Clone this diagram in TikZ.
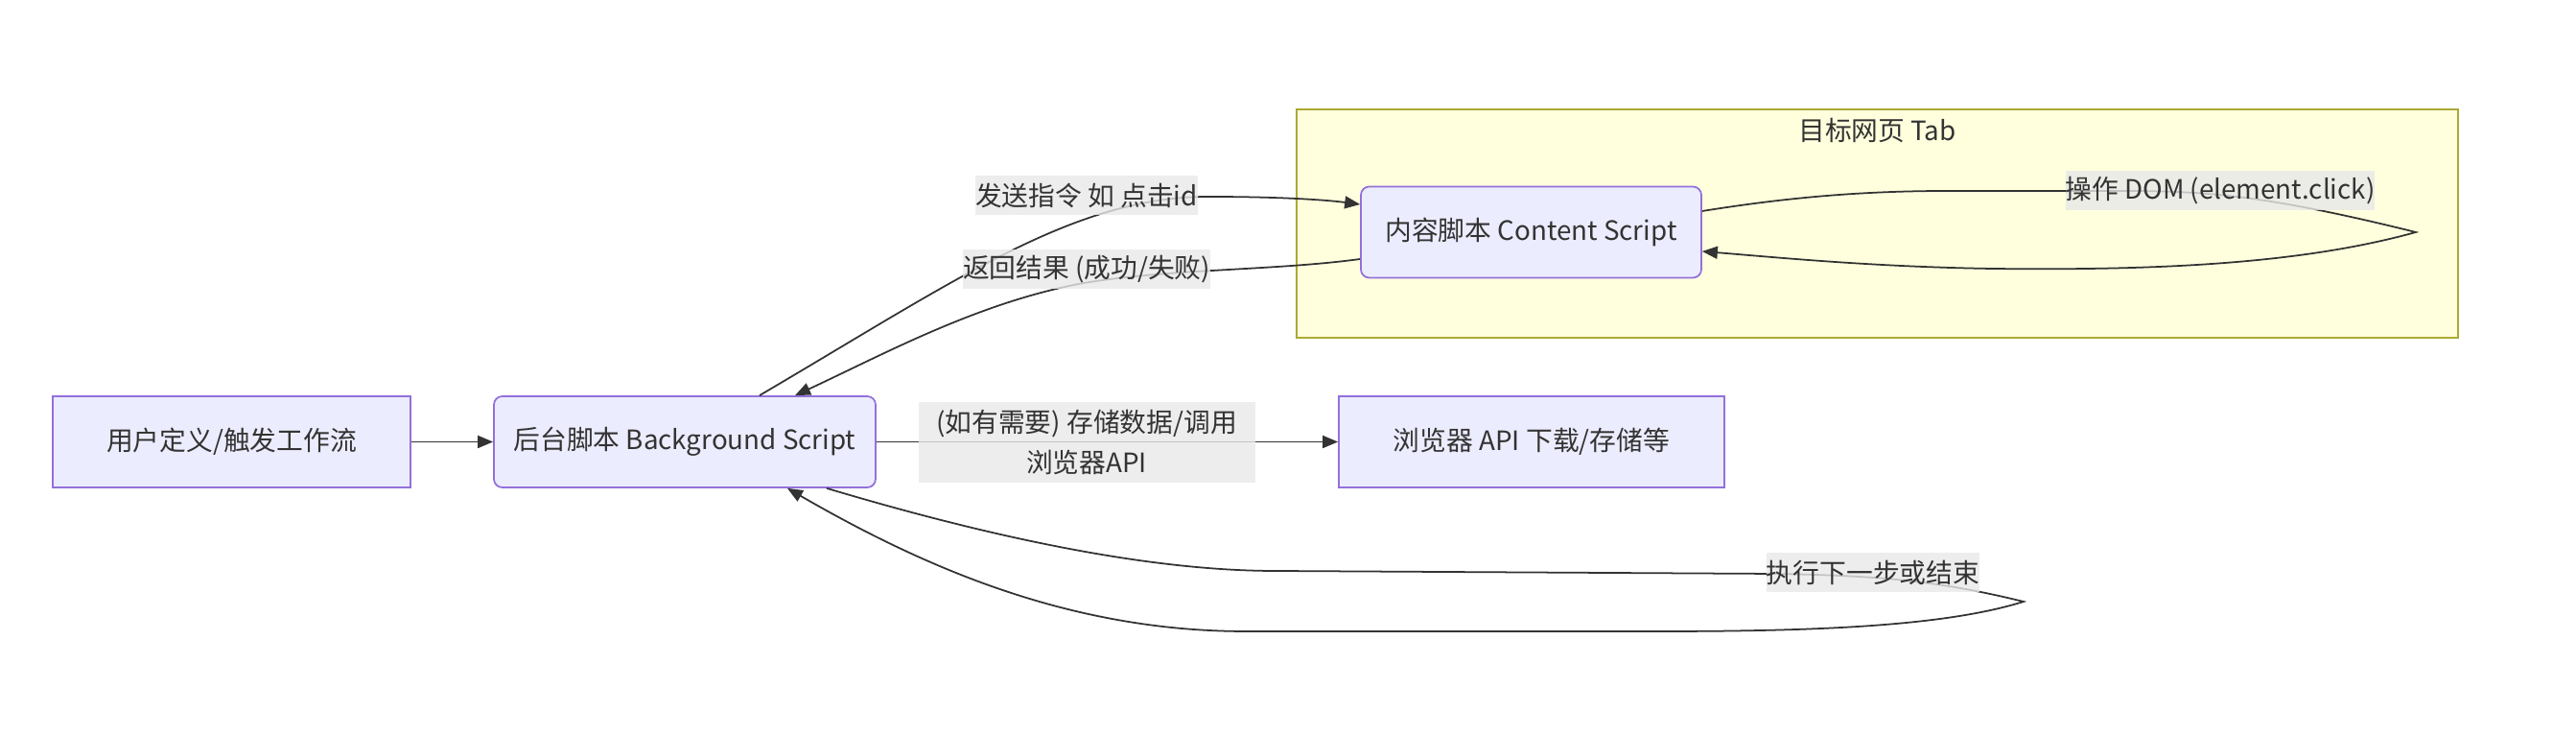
\documentclass[tikz,border=0pt]{standalone}
\usepackage{fontspec}
\setmainfont{Noto Sans CJK SC}
\usetikzlibrary{arrows.meta,positioning}
\definecolor{NodeFill}{HTML}{ECECFF}
\definecolor{NodeLine}{HTML}{9370DB}
\definecolor{TabFill}{HTML}{FFFFDE}
\definecolor{TabLine}{HTML}{AAAA33}
\definecolor{EdgeGray}{HTML}{333333}
\definecolor{LabelGray}{HTML}{E8E8E8}
\newcommand\diagfont{\fontsize{7.9pt}{11.7pt}\selectfont}

\begin{document}
\begin{tikzpicture}[
  % ── node styles ──────────────────────────────────────────
  proc/.style={
    draw=NodeLine, fill=NodeFill, line width=0.5pt,
    minimum height=0.95cm, inner sep=0pt,
    align=center, font=\diagfont, text=EdgeGray
  },
  soft/.style={proc, rounded corners=2.5pt},
  % ── subgraph frame ───────────────────────────────────────
  tabframe/.style={draw=TabLine, fill=TabFill, line width=0.5pt,
                   minimum width=12.11cm, minimum height=2.38cm},
  % ── arrow style ──────────────────────────────────────────
  arr/.style={-{Triangle[length=0.16cm,width=0.13cm]}, line width=0.5pt, color=EdgeGray},
  % ── edge label ───────────────────────────────────────────
  lbl/.style={fill=LabelGray, fill opacity=0.8, text opacity=1,
              inner sep=0pt, minimum height=0.41cm,
              font=\diagfont, text=EdgeGray, align=center}
]
\useasboundingbox (0,0) rectangle (26.86,-7.66);

%% ── Target tab ──
\node[tabframe] (TAB) at (19.575,-2.33) {};
\node[font=\diagfont, text=EdgeGray] (TABT) at ([yshift=-0.23cm]TAB.north) {目标网页 Tab};

%% ── Nodes ──
\node[proc, minimum width=3.73cm] (USR) at (2.415,-4.605)  {用户定义/触发工作流};
\node[soft, minimum width=3.98cm] (BG)  at (7.14,-4.605)   {后台脚本 Background Script};
\node[soft, minimum width=3.55cm] (CS)  at (15.965,-2.42)  {内容脚本 Content Script};
\node[proc, minimum width=4.02cm] (API) at (15.97,-4.605)  {浏览器 API 下载/存储等};

%% ── Edges: straight ──
\draw[arr] (USR) -- (BG);
\draw[arr] (BG)  -- (API);

%% ── Edges: background <-> content ──
\draw[arr] ([xshift=0.78cm]BG.north) .. controls (10.0,-2.9) and (11.2,-2.05) .. (12.6,-2.05)
  .. controls (13.3,-2.05) and (13.8,-2.08) .. ([yshift=0.29cm]CS.west);
\draw[arr] ([yshift=-0.28cm]CS.west) .. controls (13.3,-2.82) and (12.2,-2.80) .. (11.3,-2.95)
  .. controls (10.2,-3.15) and (9.2,-3.7) .. ([xshift=1.15cm]BG.north);

%% ── Edges: self loops ──
\draw[arr] ([yshift=0.22cm]CS.east) .. controls (18.5,-2.08) and (19.3,-1.99) .. (20.3,-1.99)
  -- (22.0,-1.99) .. controls (22.9,-1.99) and (23.5,-2.0) .. (25.19,-2.42)
  .. controls (24.0,-2.75) and (22.5,-2.82) .. (20.77,-2.80)
  .. controls (19.5,-2.78) and (18.5,-2.68) .. ([yshift=-0.20cm]CS.east);
\draw[arr] ([xshift=1.48cm]BG.south) .. controls (10.0,-5.5) and (11.8,-5.95) .. (13.3,-5.95)
  -- (18.5,-5.98) .. controls (19.6,-6.0) and (20.2,-6.05) .. (21.10,-6.27)
  .. controls (20.3,-6.52) and (19.0,-6.58) .. (17.3,-6.58)
  -- (13.0,-6.58) .. controls (11.2,-6.58) and (9.7,-5.95) .. ([xshift=1.07cm]BG.south);

%% ── Edge labels ──
\node[lbl] (L1) at (11.33,-2.035) {发送指令 如 点击id};
\node[lbl] (L2) at (11.33,-2.81)  {返回结果 (成功/失败)};
\node[lbl, minimum height=0.84cm, minimum width=3.51cm] (L3) at (11.33,-4.61) {(如有需要) 存储数据/调用\\浏览器API};
\node[lbl] (L4) at (23.15,-1.99)  {操作 DOM (element.click)};
\node[lbl] (L5) at (19.53,-5.965) {执行下一步或结束};

\end{tikzpicture}
\end{document}
